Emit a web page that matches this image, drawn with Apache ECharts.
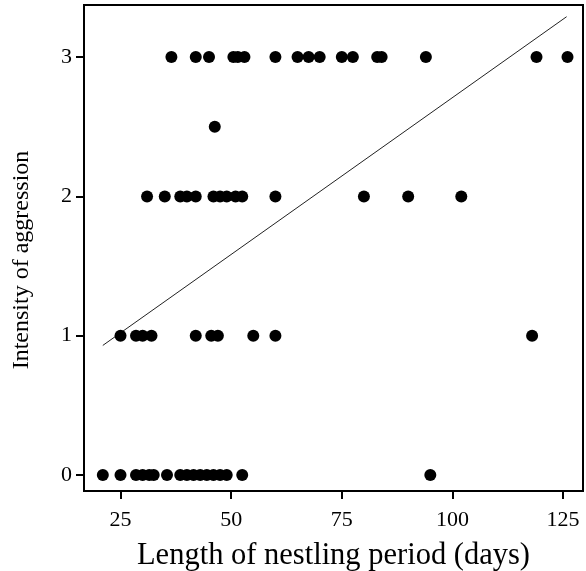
<!DOCTYPE html>
<html>
<head>
<meta charset="utf-8">
<script src="https://cdn.jsdelivr.net/npm/echarts@6/dist/echarts.min.js"></script>
<style>
html,body{margin:0;padding:0;background:#fff;}
#chart{width:586px;height:571px;}
</style>
</head>
<body>
<div id="chart"></div>
<script>
// Length of nestling period (days) for each aggression level
var level3 = [36.5, 42, 45, 50.5, 51.5, 53, 60, 65, 67.5, 70, 75, 77.5, 83, 84, 94, 119, 126];
var level25 = [46.3];
var level2 = [31, 35, 38.5, 40, 42, 46, 47.5, 49, 51, 52.5, 60, 80, 90, 102];
var level1 = [25, 28.5, 30, 32, 42, 45.5, 47, 55, 60, 118];
var level0 = [21, 25, 28.5, 30, 31.5, 32.5, 35.5, 38.5, 40, 41.5, 43, 44.5, 46, 47.5, 49, 52.5, 95];
var fitLine = [[21, 0.93], [125.8, 3.29]];
var xTicks = [25, 50, 75, 100, 125];
var yTicks = [0, 1, 2, 3];

function pts(arr, y) { return arr.map(function (x) { return [x, y]; }); }
var scatterData = [].concat(pts(level3, 3), pts(level25, 2.5), pts(level2, 2), pts(level1, 1), pts(level0, 0));

var font = '"Liberation Serif", "Times New Roman", serif';
var chart = echarts.init(document.getElementById('chart'), null, {renderer: 'canvas'});
chart.setOption({
  animation: false,
  backgroundColor: '#fff',
  grid: {left: 84, right: 3, top: 5, bottom: 80, show: true, borderColor: '#000', borderWidth: 2, backgroundColor: 'transparent', containLabel: false, outerBoundsMode: 'none'},
  xAxis: {
    type: 'value', min: 16.75, max: 129.5,
    name: 'Length of nestling period (days)', nameLocation: 'middle', nameGap: 49,
    nameTextStyle: {fontFamily: font, fontSize: 30.5, color: '#000'},
    axisLine: {show: true, onZero: false, lineStyle: {color: '#000', width: 2}},
    axisTick: {show: true, length: 8, lineStyle: {color: '#000', width: 2}, customValues: xTicks},
    axisLabel: {fontFamily: font, fontSize: 22, color: '#000', margin: 18, customValues: xTicks},
    splitLine: {show: false}
  },
  yAxis: {
    type: 'value', min: -0.115, max: 3.374,
    name: 'Intensity of aggression', nameLocation: 'middle', nameGap: 50,
    nameTextStyle: {fontFamily: font, fontSize: 24, color: '#000', padding: [0, 24, 0, 0]},
    axisLine: {show: true, onZero: false, lineStyle: {color: '#000', width: 2}},
    axisTick: {show: true, length: 8, lineStyle: {color: '#000', width: 2}, customValues: yTicks},
    axisLabel: {fontFamily: font, fontSize: 22, color: '#000', margin: 12, customValues: yTicks},
    splitLine: {show: false}
  },
  series: [
    {type: 'scatter', data: scatterData, symbol: 'circle', symbolSize: 12, itemStyle: {color: '#000', opacity: 1}},
    {type: 'line', data: fitLine, showSymbol: false, symbol: 'none', lineStyle: {color: '#222', width: 1}, z: 1}
  ]
});
</script>
</body>
</html>
